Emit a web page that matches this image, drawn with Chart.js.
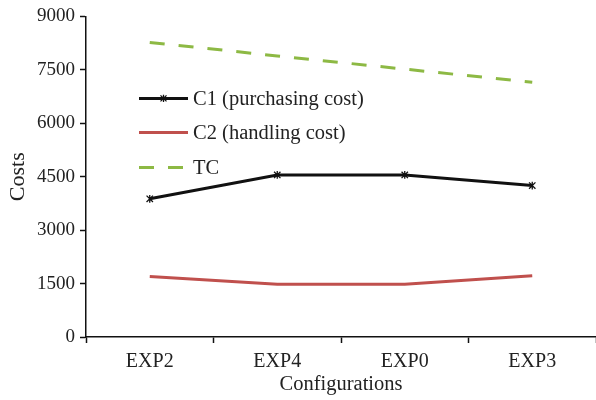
<!DOCTYPE html>
<html>
<head>
<meta charset="utf-8">
<script src="https://cdn.jsdelivr.net/npm/chart.js@4/dist/chart.umd.min.js"></script>
<style>
  html, body { margin: 0; padding: 0; background: #fff; }
  #wrap { width: 596px; height: 400px; }
</style>
</head>
<body>
<div id="wrap"><canvas id="c" width="596" height="400"></canvas></div>
<script>
// Configurations on the x axis
const configurations = ['EXP2', 'EXP4', 'EXP0', 'EXP3'];
// Cost series
const purchasingCost = [3880, 4550, 4550, 4250];
const handlingCost = [1700, 1480, 1480, 1720];
const totalCost = [8270, 7890, 7520, 7150];
// Y axis ticks
const costTicks = [0, 1500, 3000, 4500, 6000, 7500, 9000];

const FONT = '"Liberation Serif", "Times New Roman", serif';

// Small asterisk marker: two diagonals plus a vertical bar
function drawStar(ctx, x, y, r, color) {
  ctx.save();
  ctx.strokeStyle = color;
  ctx.lineWidth = 1.3;
  ctx.setLineDash([]);
  ctx.beginPath();
  ctx.moveTo(x - r, y - r); ctx.lineTo(x + r, y + r);
  ctx.moveTo(x - r, y + r); ctx.lineTo(x + r, y - r);
  ctx.moveTo(x, y - r * 1.2); ctx.lineTo(x, y + r * 1.2);
  ctx.stroke();
  ctx.restore();
}

// Legend drawn inside the plot area
const innerLegend = {
  id: 'innerLegend',
  afterDatasetsDraw(chart) {
    const ctx = chart.ctx;
    const a = chart.chartArea;
    const x0 = a.left + 53, x1 = a.left + 102, tx = a.left + 107;
    const rows = [a.top + 82, a.top + 116, a.top + 151];
    ctx.save();
    chart.data.datasets.forEach((ds, i) => {
      const y = rows[i];
      ctx.strokeStyle = ds.borderColor;
      ctx.lineWidth = ds.borderWidth;
      ctx.setLineDash(ds.borderDash || []);
      ctx.beginPath();
      ctx.moveTo(x0, y);
      ctx.lineTo(x1, y);
      ctx.stroke();
      ctx.setLineDash([]);
      if (i === 0) {
        drawStar(ctx, (x0 + x1) / 2, y, 3, ds.borderColor);
      }
      ctx.fillStyle = '#222';
      ctx.font = '20.5px ' + FONT;
      ctx.textBaseline = 'middle';
      ctx.textAlign = 'left';
      ctx.fillText(ds.label, tx, y + 1);
    });
    ctx.restore();
  }
};

// Asterisk markers on the purchasing cost line
const starMarkers = {
  id: 'starMarkers',
  afterDatasetsDraw(chart) {
    const meta = chart.getDatasetMeta(0);
    meta.data.forEach(pt => drawStar(chart.ctx, pt.x, pt.y, 3.2, '#111'));
  }
};

new Chart(document.getElementById('c'), {
  type: 'line',
  data: {
    labels: configurations,
    datasets: [
      {
        label: 'C1 (purchasing cost)',
        data: purchasingCost,
        borderColor: '#111111',
        backgroundColor: '#111111',
        borderWidth: 3,
        pointRadius: 0,
        tension: 0
      },
      {
        label: 'C2 (handling cost)',
        data: handlingCost,
        borderColor: '#c0504d',
        backgroundColor: '#c0504d',
        borderWidth: 3,
        pointRadius: 0,
        tension: 0
      },
      {
        label: 'TC',
        data: totalCost,
        borderColor: '#8db944',
        backgroundColor: '#8db944',
        borderWidth: 3,
        borderDash: [15, 14],
        pointRadius: 0,
        tension: 0
      }
    ]
  },
  options: {
    responsive: false,
    animation: false,
    devicePixelRatio: 1,
    layout: { padding: { top: 15, right: -12, left: 0, bottom: 0 } },
    plugins: {
      legend: { display: false },
      tooltip: { enabled: false }
    },
    scales: {
      x: {
        offset: true,
        grid: {
          offset: true,
          drawOnChartArea: false,
          drawTicks: true,
          tickLength: 6,
          tickColor: '#111',
          tickWidth: 1.5
        },
        border: { display: true, color: '#111', width: 1.5 },
        ticks: {
          color: '#222',
          font: { family: FONT, size: 20 },
          padding: 7,
          maxRotation: 0
        },
        title: {
          display: true,
          text: 'Configurations',
          color: '#222',
          font: { family: FONT, size: 20.5 },
          padding: { top: 0, bottom: 3 }
        },
        afterFit(scale) { scale.height = 63; }
      },
      y: {
        min: 0,
        max: 9000,
        afterBuildTicks(scale) {
          scale.ticks = costTicks.map(v => ({ value: v }));
        },
        grid: {
          drawOnChartArea: false,
          drawTicks: true,
          tickLength: 6,
          tickColor: '#111',
          tickWidth: 1.5
        },
        border: { display: true, color: '#111', width: 1.5 },
        ticks: {
          color: '#222',
          font: { family: FONT, size: 19 },
          padding: 5,
          callback: v => String(v)
        },
        title: {
          display: true,
          text: 'Costs',
          color: '#222',
          font: { family: FONT, size: 22 },
          padding: { top: 5, bottom: 2 }
        },
        afterFit(scale) { scale.width = 86; }
      }
    }
  },
  plugins: [innerLegend, starMarkers]
});
</script>
</body>
</html>
